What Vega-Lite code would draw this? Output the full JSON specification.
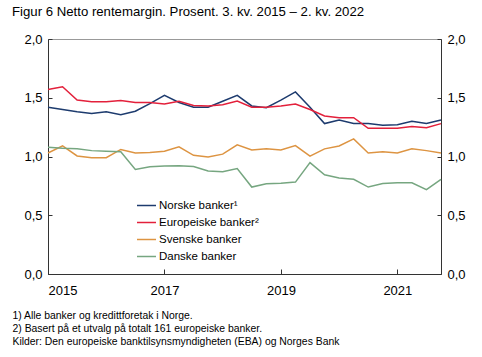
{
  "$schema": "https://vega.github.io/schema/vega-lite/v6.json",
  "autosize": {"type": "none"},
  "padding": {"left": 48, "top": 39, "right": 41, "bottom": 83},
  "width": 393,
  "height": 235,
  "background": "white",
  "config": {
    "font": "Liberation Sans",
    "view": {"stroke": "#999999", "strokeWidth": 1},
    "axis": {"grid": false, "domainColor": "#333333", "tickColor": "#333333", "labelColor": "#000000", "labelFont": "Liberation Sans", "labelFontSize": 13}
  },
  "title": {
    "text": "Figur 6 Netto rentemargin. Prosent. 3. kv. 2015 – 2. kv. 2022",
    "anchor": "start",
    "frame": "group",
    "dx": -36,
    "offset": 14,
    "fontSize": 13.2,
    "fontWeight": "normal",
    "font": "Liberation Sans",
    "color": "#000000"
  },
  "data": {
    "values": [
      {"i": 0, "serie": "Norske banker¹", "v": 1.42}, {"i": 1, "serie": "Norske banker¹", "v": 1.40}, {"i": 2, "serie": "Norske banker¹", "v": 1.38}, {"i": 3, "serie": "Norske banker¹", "v": 1.365}, {"i": 4, "serie": "Norske banker¹", "v": 1.38}, {"i": 5, "serie": "Norske banker¹", "v": 1.355}, {"i": 6, "serie": "Norske banker¹", "v": 1.385}, {"i": 7, "serie": "Norske banker¹", "v": 1.45}, {"i": 8, "serie": "Norske banker¹", "v": 1.52}, {"i": 9, "serie": "Norske banker¹", "v": 1.46}, {"i": 10, "serie": "Norske banker¹", "v": 1.42}, {"i": 11, "serie": "Norske banker¹", "v": 1.42}, {"i": 12, "serie": "Norske banker¹", "v": 1.47}, {"i": 13, "serie": "Norske banker¹", "v": 1.52}, {"i": 14, "serie": "Norske banker¹", "v": 1.43}, {"i": 15, "serie": "Norske banker¹", "v": 1.415}, {"i": 16, "serie": "Norske banker¹", "v": 1.48}, {"i": 17, "serie": "Norske banker¹", "v": 1.55}, {"i": 18, "serie": "Norske banker¹", "v": 1.42}, {"i": 19, "serie": "Norske banker¹", "v": 1.28}, {"i": 20, "serie": "Norske banker¹", "v": 1.31}, {"i": 21, "serie": "Norske banker¹", "v": 1.28}, {"i": 22, "serie": "Norske banker¹", "v": 1.28}, {"i": 23, "serie": "Norske banker¹", "v": 1.265}, {"i": 24, "serie": "Norske banker¹", "v": 1.27}, {"i": 25, "serie": "Norske banker¹", "v": 1.30}, {"i": 26, "serie": "Norske banker¹", "v": 1.28}, {"i": 27, "serie": "Norske banker¹", "v": 1.31},
      {"i": 0, "serie": "Europeiske banker²", "v": 1.57}, {"i": 1, "serie": "Europeiske banker²", "v": 1.594}, {"i": 2, "serie": "Europeiske banker²", "v": 1.48}, {"i": 3, "serie": "Europeiske banker²", "v": 1.465}, {"i": 4, "serie": "Europeiske banker²", "v": 1.465}, {"i": 5, "serie": "Europeiske banker²", "v": 1.477}, {"i": 6, "serie": "Europeiske banker²", "v": 1.46}, {"i": 7, "serie": "Europeiske banker²", "v": 1.46}, {"i": 8, "serie": "Europeiske banker²", "v": 1.447}, {"i": 9, "serie": "Europeiske banker²", "v": 1.47}, {"i": 10, "serie": "Europeiske banker²", "v": 1.435}, {"i": 11, "serie": "Europeiske banker²", "v": 1.43}, {"i": 12, "serie": "Europeiske banker²", "v": 1.44}, {"i": 13, "serie": "Europeiske banker²", "v": 1.472}, {"i": 14, "serie": "Europeiske banker²", "v": 1.42}, {"i": 15, "serie": "Europeiske banker²", "v": 1.42}, {"i": 16, "serie": "Europeiske banker²", "v": 1.43}, {"i": 17, "serie": "Europeiske banker²", "v": 1.447}, {"i": 18, "serie": "Europeiske banker²", "v": 1.40}, {"i": 19, "serie": "Europeiske banker²", "v": 1.345}, {"i": 20, "serie": "Europeiske banker²", "v": 1.33}, {"i": 21, "serie": "Europeiske banker²", "v": 1.33}, {"i": 22, "serie": "Europeiske banker²", "v": 1.24}, {"i": 23, "serie": "Europeiske banker²", "v": 1.24}, {"i": 24, "serie": "Europeiske banker²", "v": 1.24}, {"i": 25, "serie": "Europeiske banker²", "v": 1.255}, {"i": 26, "serie": "Europeiske banker²", "v": 1.245}, {"i": 27, "serie": "Europeiske banker²", "v": 1.28},
      {"i": 0, "serie": "Svenske banker", "v": 1.03}, {"i": 1, "serie": "Svenske banker", "v": 1.09}, {"i": 2, "serie": "Svenske banker", "v": 1.005}, {"i": 3, "serie": "Svenske banker", "v": 0.99}, {"i": 4, "serie": "Svenske banker", "v": 0.99}, {"i": 5, "serie": "Svenske banker", "v": 1.06}, {"i": 6, "serie": "Svenske banker", "v": 1.03}, {"i": 7, "serie": "Svenske banker", "v": 1.035}, {"i": 8, "serie": "Svenske banker", "v": 1.045}, {"i": 9, "serie": "Svenske banker", "v": 1.082}, {"i": 10, "serie": "Svenske banker", "v": 1.01}, {"i": 11, "serie": "Svenske banker", "v": 0.995}, {"i": 12, "serie": "Svenske banker", "v": 1.02}, {"i": 13, "serie": "Svenske banker", "v": 1.10}, {"i": 14, "serie": "Svenske banker", "v": 1.055}, {"i": 15, "serie": "Svenske banker", "v": 1.065}, {"i": 16, "serie": "Svenske banker", "v": 1.055}, {"i": 17, "serie": "Svenske banker", "v": 1.093}, {"i": 18, "serie": "Svenske banker", "v": 1.003}, {"i": 19, "serie": "Svenske banker", "v": 1.065}, {"i": 20, "serie": "Svenske banker", "v": 1.09}, {"i": 21, "serie": "Svenske banker", "v": 1.15}, {"i": 22, "serie": "Svenske banker", "v": 1.03}, {"i": 23, "serie": "Svenske banker", "v": 1.04}, {"i": 24, "serie": "Svenske banker", "v": 1.03}, {"i": 25, "serie": "Svenske banker", "v": 1.065}, {"i": 26, "serie": "Svenske banker", "v": 1.05}, {"i": 27, "serie": "Svenske banker", "v": 1.03},
      {"i": 0, "serie": "Danske banker", "v": 1.078}, {"i": 1, "serie": "Danske banker", "v": 1.07}, {"i": 2, "serie": "Danske banker", "v": 1.065}, {"i": 3, "serie": "Danske banker", "v": 1.05}, {"i": 4, "serie": "Danske banker", "v": 1.045}, {"i": 5, "serie": "Danske banker", "v": 1.04}, {"i": 6, "serie": "Danske banker", "v": 0.89}, {"i": 7, "serie": "Danske banker", "v": 0.913}, {"i": 8, "serie": "Danske banker", "v": 0.92}, {"i": 9, "serie": "Danske banker", "v": 0.922}, {"i": 10, "serie": "Danske banker", "v": 0.915}, {"i": 11, "serie": "Danske banker", "v": 0.876}, {"i": 12, "serie": "Danske banker", "v": 0.87}, {"i": 13, "serie": "Danske banker", "v": 0.898}, {"i": 14, "serie": "Danske banker", "v": 0.74}, {"i": 15, "serie": "Danske banker", "v": 0.768}, {"i": 16, "serie": "Danske banker", "v": 0.772}, {"i": 17, "serie": "Danske banker", "v": 0.782}, {"i": 18, "serie": "Danske banker", "v": 0.948}, {"i": 19, "serie": "Danske banker", "v": 0.845}, {"i": 20, "serie": "Danske banker", "v": 0.817}, {"i": 21, "serie": "Danske banker", "v": 0.806}, {"i": 22, "serie": "Danske banker", "v": 0.74}, {"i": 23, "serie": "Danske banker", "v": 0.77}, {"i": 24, "serie": "Danske banker", "v": 0.777}, {"i": 25, "serie": "Danske banker", "v": 0.777}, {"i": 26, "serie": "Danske banker", "v": 0.718}, {"i": 27, "serie": "Danske banker", "v": 0.806}
    ]
  },
  "layer": [
    {
      "mark": {"type": "line", "strokeWidth": 1.5},
      "encoding": {
        "x": {
          "field": "i", "type": "quantitative",
          "scale": {"domain": [0, 27], "nice": false, "zero": false},
          "axis": {
            "values": [0, 8, 16, 24],
            "labelExpr": "datum.value == 0 ? '2015' : datum.value == 8 ? '2017' : datum.value == 16 ? '2019' : '2021'",
            "tickSize": -5,
            "labelPadding": 15,
            "title": ["1) Alle banker og kredittforetak i Norge.", "2) Basert på et utvalg på totalt 161 europeiske banker.", "Kilder: Den europeiske banktilsynsmyndigheten (EBA) og Norges Bank"],
            "titleFont": "Liberation Sans",
            "titleFontSize": 10.4,
            "titleFontWeight": "normal",
            "titleColor": "#000000",
            "titleAnchor": "start",
            "titleAlign": "left",
            "titleBaseline": "alphabetic",
            "titleX": -36,
            "titleY": 44,
            "titleLineHeight": 13
          }
        },
        "y": {
          "field": "v", "type": "quantitative",
          "scale": {"domain": [0, 2], "nice": false},
          "axis": {
            "orient": "left",
            "values": [0, 0.5, 1, 1.5, 2],
            "labelExpr": "replace(format(datum.value, '.1f'), '.', ',')",
            "tickSize": -4,
            "labelPadding": 10,
            "title": null
          }
        },
        "color": {
          "field": "serie", "type": "nominal",
          "scale": {
            "domain": ["Norske banker¹", "Europeiske banker²", "Svenske banker", "Danske banker"],
            "range": ["#1d3b6e", "#e3203b", "#dd9442", "#76a680"]
          },
          "legend": {
            "title": null,
            "orient": "none",
            "legendX": 88,
            "legendY": 156,
            "symbolType": "stroke",
            "symbolSize": 361,
            "symbolStrokeWidth": 1.5,
            "labelFont": "Liberation Sans",
            "labelFontSize": 11.5,
            "labelColor": "#000000",
            "labelOffset": 2,
            "rowPadding": 1
          }
        }
      }
    },
    {
      "mark": {"type": "line", "strokeOpacity": 0},
      "encoding": {
        "x": {"field": "i", "type": "quantitative"},
        "y": {
          "field": "v", "type": "quantitative",
          "axis": {
            "orient": "right",
            "values": [0, 0.5, 1, 1.5, 2],
            "labelExpr": "replace(format(datum.value, '.1f'), '.', ',')",
            "tickSize": -4,
            "labelPadding": 10,
            "title": null
          }
        },
        "detail": {"field": "serie"}
      }
    }
  ],
  "resolve": {"axis": {"y": "independent"}}
}
